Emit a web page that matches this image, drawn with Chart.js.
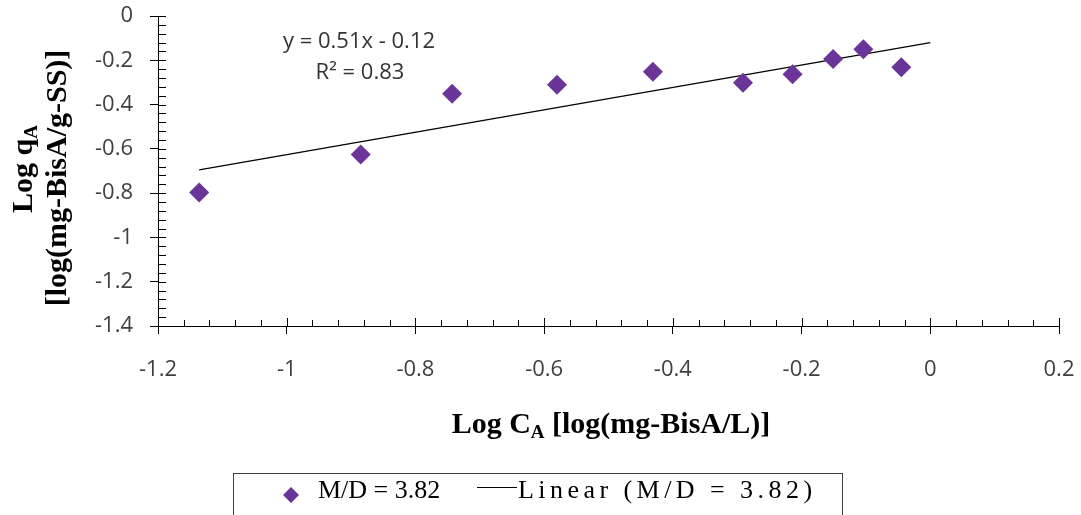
<!DOCTYPE html>
<html>
<head>
<meta charset="utf-8">
<script src="https://cdn.jsdelivr.net/npm/chart.js@4/dist/chart.umd.min.js"></script>
<style>
  html, body { margin: 0; padding: 0; background: #fff; }
  #wrap { width: 1081px; height: 515px; }
</style>
</head>
<body>
<div id="wrap"><canvas id="c" width="1081" height="515"></canvas></div>
<script>
// ---- data ----
const seriesLabel = 'M/D = 3.82';
const trendLabel = 'Linear (M/D = 3.82)';
const xValues = [-1.136, -0.885, -0.743, -0.580, -0.431, -0.291, -0.214, -0.151, -0.104, -0.045];
const yValues = [-0.797, -0.626, -0.351, -0.311, -0.252, -0.302, -0.263, -0.194, -0.150, -0.231];
const trendX = [-1.136, 0];
const trendY = [-0.695, -0.12];
const xTicks = [-1.2, -1, -0.8, -0.6, -0.4, -0.2, 0, 0.2];
const yTicks = [0, -0.2, -0.4, -0.6, -0.8, -1, -1.2, -1.4];
const equationText = 'y = 0.51x - 0.12';
const r2Text = 'R² = 0.83';
const xTitleParts = [['Log C', false], ['A', true], [' [log(mg-BisA/L)]', false]];
const yTitle1Parts = [['Log q', false], ['A', true]];
const yTitle2Parts = [['[log(mg-BisA/g-SS)]', false]];

const PURPLE = '#6B3499';
const TICK_FONT = '"Open Sans", "Noto Sans", sans-serif';
const SERIF = '"Liberation Serif", "DejaVu Serif", serif';

function drawRich(ctx, parts, x, y, size, align) {
  const subSize = Math.round(size * 0.62);
  let total = 0;
  const widths = parts.map(([t, sub]) => {
    ctx.font = 'bold ' + (sub ? subSize : size) + 'px ' + SERIF;
    const w = ctx.measureText(t).width;
    total += w;
    return w;
  });
  let cx = align === 'center' ? x - total / 2 : x;
  parts.forEach(([t, sub], i) => {
    ctx.font = 'bold ' + (sub ? subSize : size) + 'px ' + SERIF;
    ctx.fillText(t, cx, sub ? y + 5 : y);
    cx += widths[i];
  });
}

const decor = {
  id: 'decor',
  afterDraw(chart) {
    const ctx = chart.ctx;
    const xs = chart.scales.x, ys = chart.scales.y;
    const ay = ys.getPixelForValue(-1.4);
    const ax = xs.getPixelForValue(-1.2);
    ctx.save();
    ctx.strokeStyle = '#000';
    ctx.lineWidth = 1;
    // inner tick marks (major + minor)
    ctx.beginPath();
    for (let i = 0; i < xTicks.length; i++) {
      const px = Math.round(xs.getPixelForValue(xTicks[i])) + 0.5;
      ctx.moveTo(px, ay); ctx.lineTo(px, ay - 8);
      if (i < xTicks.length - 1) {
        for (let k = 1; k < 5; k++) {
          const v = xTicks[i] + (xTicks[i + 1] - xTicks[i]) * k / 5;
          const mx = Math.round(xs.getPixelForValue(v)) + 0.5;
          ctx.moveTo(mx, ay); ctx.lineTo(mx, ay - 6);
        }
      }
    }
    for (let i = 0; i < yTicks.length; i++) {
      const py = Math.round(ys.getPixelForValue(yTicks[i])) + 0.5;
      ctx.moveTo(ax, py); ctx.lineTo(ax + 8, py);
      if (i < yTicks.length - 1) {
        for (let k = 1; k < 5; k++) {
          const v = yTicks[i] + (yTicks[i + 1] - yTicks[i]) * k / 5;
          const my = Math.round(ys.getPixelForValue(v)) + 0.5;
          ctx.moveTo(ax, my); ctx.lineTo(ax + 8, my);
        }
      }
    }
    ctx.stroke();

    // trendline equation
    ctx.fillStyle = '#333';
    ctx.textAlign = 'center';
    ctx.textBaseline = 'alphabetic';
    ctx.font = '22px ' + TICK_FONT;
    ctx.fillText(equationText, 359, 48);
    ctx.fillText(r2Text, 360, 79);

    // axis titles
    ctx.fillStyle = '#000';
    ctx.textAlign = 'left';
    drawRich(ctx, xTitleParts, 611, 433, 30, 'center');
    ctx.save();
    ctx.translate(32, 169);
    ctx.rotate(-Math.PI / 2);
    drawRich(ctx, yTitle1Parts, 0, 0, 30, 'center');
    ctx.restore();
    ctx.save();
    ctx.translate(66, 178);
    ctx.rotate(-Math.PI / 2);
    drawRich(ctx, yTitle2Parts, 0, 0, 30, 'center');
    ctx.restore();

    // legend box
    ctx.strokeStyle = '#404040';
    ctx.lineWidth = 1;
    ctx.strokeRect(233.5, 473.5, 609, 60);
    // marker
    const mx = 291, my = 495;
    ctx.fillStyle = PURPLE;
    ctx.beginPath();
    ctx.moveTo(mx, my - 8); ctx.lineTo(mx + 8, my); ctx.lineTo(mx, my + 8); ctx.lineTo(mx - 8, my);
    ctx.closePath(); ctx.fill();
    ctx.fillStyle = '#000';
    ctx.font = '26px ' + SERIF;
    ctx.textAlign = 'left';
    ctx.fillText(chart.data.datasets[0].label, 318, 498);
    ctx.strokeStyle = '#000';
    ctx.beginPath();
    ctx.moveTo(477, 487.5); ctx.lineTo(517, 487.5);
    ctx.stroke();
    const lbl2 = chart.data.datasets[1].label;
    const natural = ctx.measureText(lbl2).width;
    const spacing = Math.max(0, (294 - natural) / (lbl2.length - 1));
    if ('letterSpacing' in ctx) {
      ctx.letterSpacing = spacing.toFixed(2) + 'px';
    }
    ctx.fillText(lbl2, 518, 498);
    if ('letterSpacing' in ctx) ctx.letterSpacing = '0px';
    ctx.restore();
  }
};

const fmt = v => String(Number(v.toFixed(2)));
const noPad = s => { s.paddingTop = 0; s.paddingBottom = 0; s.paddingLeft = 0; s.paddingRight = 0; };

new Chart(document.getElementById('c'), {
  type: 'scatter',
  data: {
    datasets: [
      {
        label: seriesLabel,
        data: xValues.map((x, i) => ({ x, y: yValues[i] })),
        pointStyle: 'rectRot',
        pointRadius: 10,
        pointHoverRadius: 10,
        backgroundColor: PURPLE,
        borderColor: PURPLE,
        borderWidth: 0,
        showLine: false
      },
      {
        label: trendLabel,
        data: trendX.map((x, i) => ({ x, y: trendY[i] })),
        showLine: true,
        borderColor: '#000',
        borderWidth: 1.3,
        pointRadius: 0,
        fill: false
      }
    ]
  },
  options: {
    responsive: false,
    animation: false,
    events: [],
    layout: { padding: { left: 0, top: 16, right: 22, bottom: 0 } },
    plugins: { legend: { display: false }, tooltip: { enabled: false } },
    scales: {
      x: {
        type: 'linear', min: -1.2, max: 0.2,
        afterBuildTicks: s => { s.ticks = xTicks.map(v => ({ value: v })); },
        afterFit: s => { s.height = 189; noPad(s); },
        ticks: { callback: fmt, color: '#404040', font: { family: TICK_FONT, size: 22 }, padding: 23, maxRotation: 0, autoSkip: false },
        grid: { drawOnChartArea: false, color: '#000', tickLength: 8, lineWidth: 1 },
        border: { color: '#000', width: 1 }
      },
      y: {
        type: 'linear', min: -1.4, max: 0,
        afterBuildTicks: s => { s.ticks = yTicks.map(v => ({ value: v })); },
        afterFit: s => { s.width = 158; noPad(s); },
        ticks: { callback: fmt, color: '#404040', font: { family: TICK_FONT, size: 22 }, padding: 17, autoSkip: false },
        grid: { drawOnChartArea: false, color: '#000', tickLength: 8, lineWidth: 1 },
        border: { color: '#000', width: 1 }
      }
    }
  },
  plugins: [decor]
});
</script>
</body>
</html>
